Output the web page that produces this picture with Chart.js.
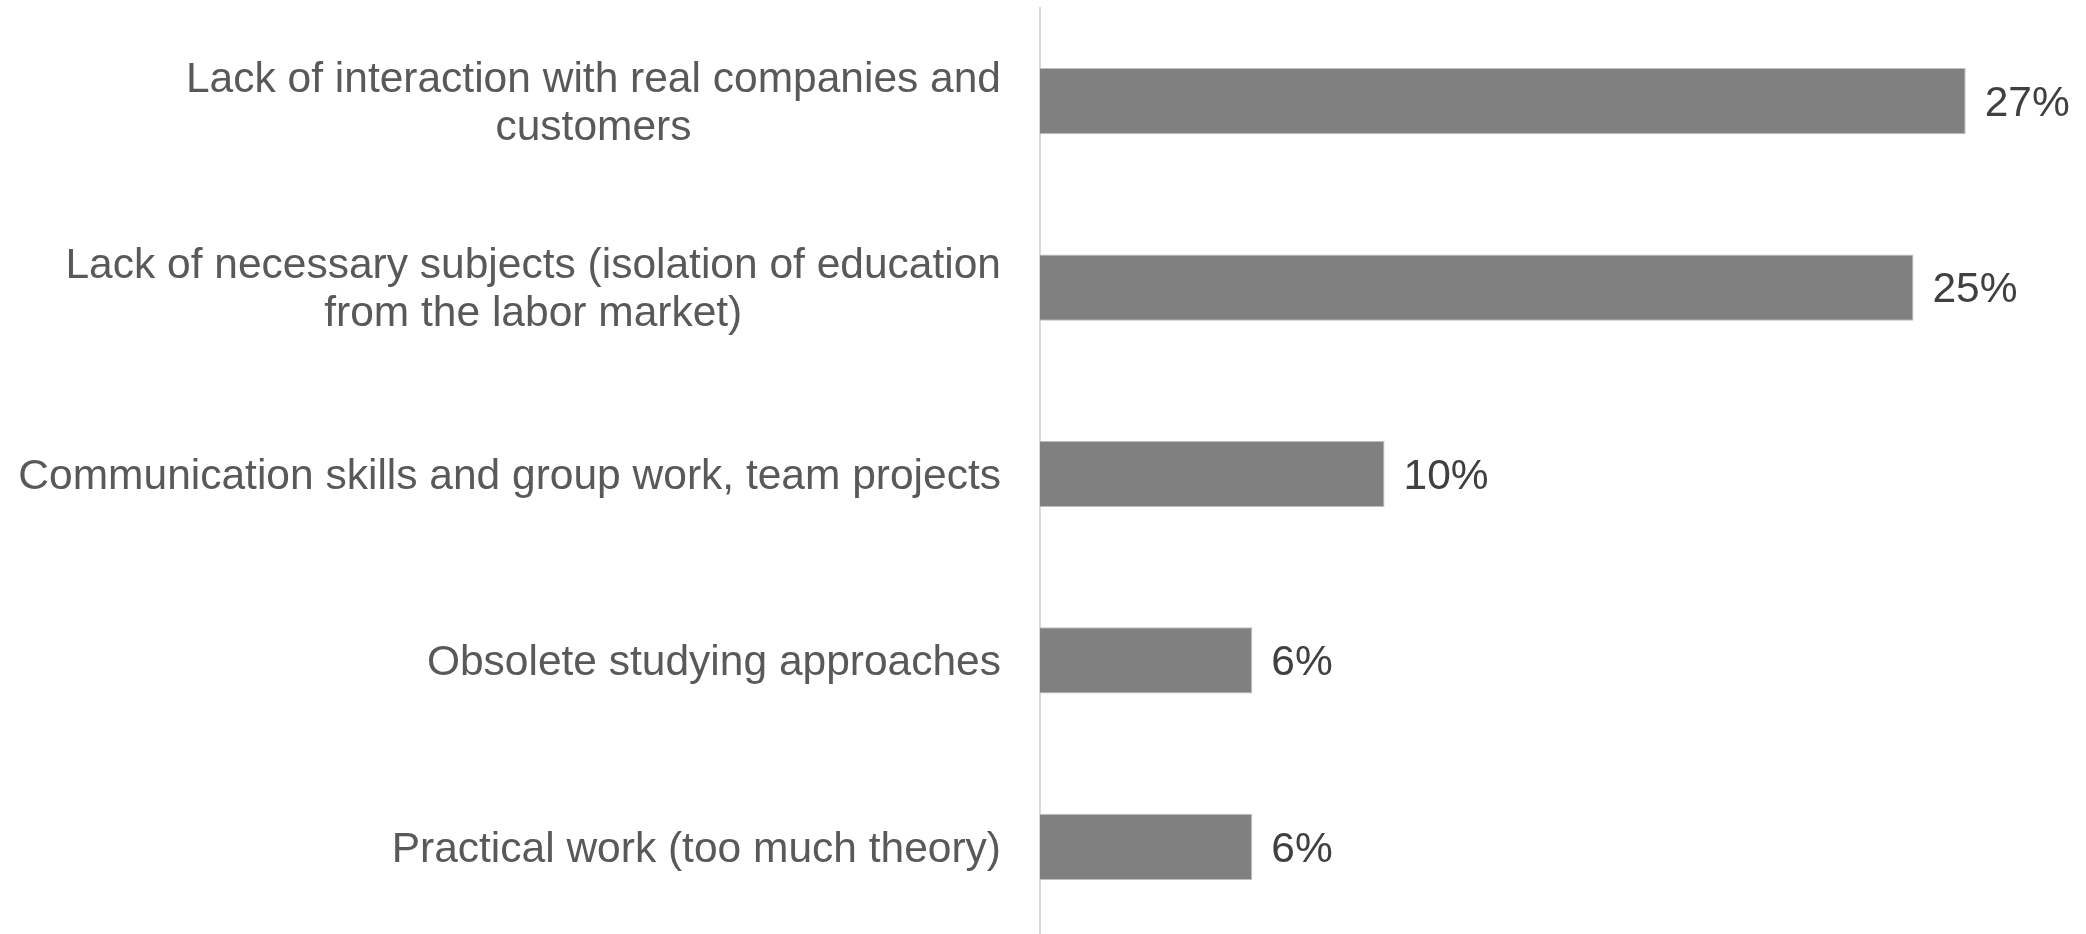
<!DOCTYPE html>
<html>
<head>
<meta charset="utf-8">
<script src="https://cdn.jsdelivr.net/npm/chart.js@4"></script>
<style>
  html, body { margin: 0; background: #fff; overflow: hidden; }
  /* a bit taller than the window: the axis runs off the bottom edge */
  #wrap { width: 2086px; height: 940px; position: relative; }
</style>
</head>
<body>
<div id="wrap"><canvas id="bars"></canvas></div>
<script>
// categories, each one split into the lines it is shown on
const categories = [
	["Lack of interaction with real companies and", "customers"],
	["Lack of necessary subjects (isolation of education", "from the labor market)"],
	["Communication skills and group work, team projects"],
	["Obsolete studying approaches"],
	["Practical work (too much theory)"],
];
// share of answers, in percent
const shares = [26.6, 25.1, 9.9, 6.1, 6.1];

const labelFont = '42.5px "Liberation Sans", Arial, sans-serif';

// category labels: block right-aligned to the axis, lines centred in the block
const categoryLabels = {
	id: "categoryLabels",
	afterDraw(chart) {
		const ctx = chart.ctx;
		const yScale = chart.scales.y;
		const right = chart.chartArea.left - 39;
		ctx.save();
		ctx.font = labelFont;
		ctx.fillStyle = "#595959";
		ctx.textAlign = "center";
		ctx.textBaseline = "middle";
		categories.forEach((lines, i) => {
			const w = Math.max(...lines.map((l) => ctx.measureText(l).width));
			const cx = right - w / 2;
			const yc = yScale.getPixelForValue(i) + 3;
			lines.forEach((l, j) => {
				ctx.fillText(l, cx, yc + (j - (lines.length - 1) / 2) * 48);
			});
		});
		ctx.restore();
	},
};

// value labels at the end of each bar
const valueLabels = {
	id: "valueLabels",
	afterDatasetsDraw(chart) {
		const ctx = chart.ctx;
		const meta = chart.getDatasetMeta(0);
		ctx.save();
		ctx.font = labelFont;
		ctx.fillStyle = "#404040";
		ctx.textAlign = "left";
		ctx.textBaseline = "middle";
		meta.data.forEach((bar, i) => {
			ctx.fillText(Math.round(shares[i]) + "%", bar.x + 19, bar.y + 3);
		});
		ctx.restore();
	},
};

new Chart(document.getElementById("bars"), {
	type: "bar",
	data: {
		labels: categories,
		datasets: [
			{
				data: shares,
				backgroundColor: "#808080",
				borderColor: "#bfbfbf",
				borderWidth: 1,
				categoryPercentage: 1,
				barPercentage: 0.355,
			},
		],
	},
	options: {
		indexAxis: "y",
		responsive: true,
		maintainAspectRatio: false,
		animation: false,
		layout: { padding: { top: 8, right: 2, bottom: 0, left: 0 } },
		plugins: {
			legend: { display: false },
			tooltip: { enabled: false },
		},
		scales: {
			x: {
				display: false,
				min: 0,
				max: 30,
			},
			y: {
				grid: { display: false },
				border: { display: true, color: "#d9d9d9", width: 2 },
				ticks: { display: false },
				afterFit(scale) {
					scale.width = 1040;
				},
			},
		},
	},
	plugins: [categoryLabels, valueLabels],
});
</script>
</body>
</html>
